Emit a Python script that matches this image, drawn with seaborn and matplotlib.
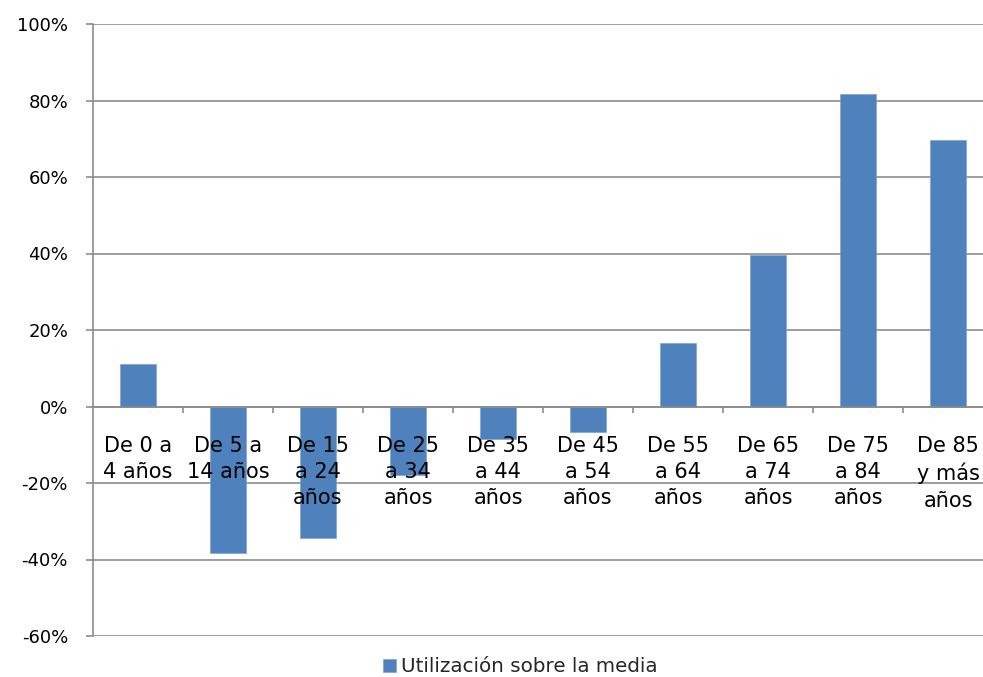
import matplotlib
matplotlib.use("Agg")
import matplotlib.pyplot as plt
from matplotlib.ticker import FixedLocator, FuncFormatter
import seaborn as sns
import pandas as pd

# Age groups and usage relative to the mean (%)
categories = [
    "De 0 a\n4 años", "De 5 a\n14 años", "De 15\na 24\naños", "De 25\na 34\naños",
    "De 35\na 44\naños", "De 45\na 54\naños", "De 55\na 64\naños", "De 65\na 74\naños",
    "De 75\na 84\naños", "De 85\ny más\naños",
]
values = [11.0, -38.3, -34.5, -18.0, -8.6, -6.7, 16.6, 39.7, 81.8, 69.8]
series_name = "Utilización sobre la media"
y_ticks = [-60, -40, -20, 0, 20, 40, 60, 80, 100]

sns.set_theme(style="white")
plt.rcParams["font.family"] = ["DejaVu Sans"]

df = pd.DataFrame({"grupo": categories, "valor": values})

fig = plt.figure(figsize=(9.83, 6.77), dpi=100)
ax = fig.add_axes([93 / 983, 1 - 636 / 677, 900 / 983, (636 - 24) / 677])

grid_c = "#8C8C8C"
bar_c = "#4F81BD"

sns.barplot(data=df, x="grupo", y="valor", order=categories, color=bar_c,
            width=0.4, saturation=1, ax=ax, label=series_name, zorder=2,
            edgecolor="#7FA3D0", linewidth=0.5)

ax.set_ylim(-60, 100)
ax.set_xlim(-0.5, len(categories) - 0.5)
ax.yaxis.set_major_locator(FixedLocator(y_ticks))
ax.yaxis.set_major_formatter(FuncFormatter(lambda v, p: f"{v:.0f}%"))

# horizontal gridlines
for t in y_ticks:
    ax.axhline(t, color=grid_c, lw=1.2, zorder=1)

for s in ["top", "right"]:
    ax.spines[s].set_visible(False)
ax.spines["left"].set_color(grid_c)
ax.spines["left"].set_linewidth(1.2)
ax.spines["bottom"].set_position(("data", 0))
ax.spines["bottom"].set_color(grid_c)
ax.spines["bottom"].set_linewidth(1.2)
ax.spines["bottom"].set_zorder(4)
ax.xaxis.set_zorder(5)

ax.tick_params(axis="y", which="major", direction="out", length=5, width=1.2,
               color=grid_c, left=True, pad=13, labelsize=13, labelcolor="black")
ax.xaxis.set_minor_locator(FixedLocator([i - 0.5 for i in range(1, len(categories) + 1)]))
ax.tick_params(axis="x", which="minor", direction="out", length=4.5, width=1.2,
               color=grid_c, bottom=True)
ax.tick_params(axis="x", which="major", length=0, pad=21, labelsize=15,
               labelcolor="black")
for lbl in ax.get_xticklabels():
    lbl.set_multialignment("center")
    lbl.set_linespacing(1.4)

ax.set_xlabel("")
ax.set_ylabel("")

leg = ax.get_legend()
if leg is not None:
    leg.remove()
handles, labels = ax.get_legend_handles_labels()
fig.legend(handles, labels, loc="center", bbox_to_anchor=(0.529, 0.0148),
           frameon=False, fontsize=14.3, handlelength=0.65, handleheight=0.65,
           handletextpad=0.25, borderpad=0)

fig.savefig("out.png", dpi=100)
